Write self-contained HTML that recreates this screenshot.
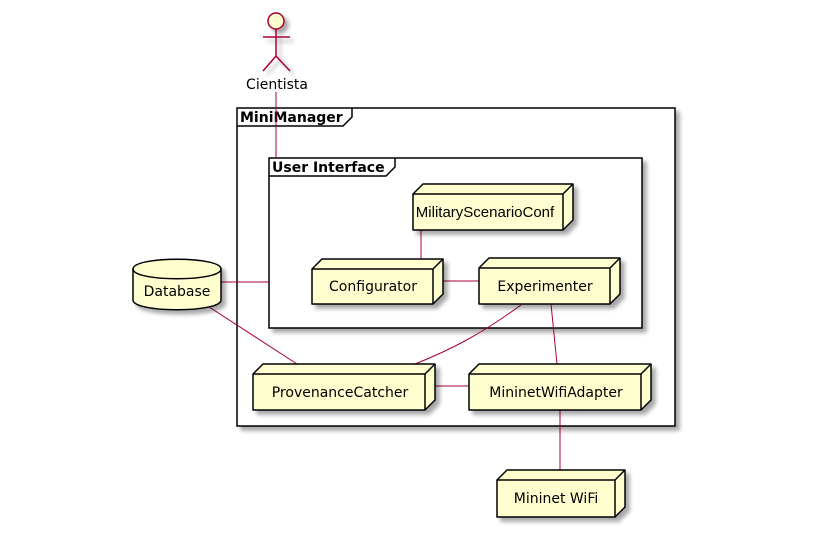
<!DOCTYPE html>
<html><head><style>body{margin:0;background:#fff}svg{display:block}</style></head><body>
<svg width="818" height="540" viewBox="0 0 818 540" xmlns="http://www.w3.org/2000/svg" font-family="DejaVu Sans, sans-serif" font-size="13">
<defs><filter id="s" x="-10%" y="-10%" width="130%" height="130%"><feGaussianBlur in="SourceAlpha" stdDeviation="2"/><feOffset dx="4" dy="4"/><feComponentTransfer><feFuncA type="linear" slope="0.35"/></feComponentTransfer><feMerge><feMergeNode/><feMergeNode in="SourceGraphic"/></feMerge></filter></defs>
<rect x="237" y="108" width="438" height="318" fill="#fff" stroke="#000" stroke-width="1.5" filter="url(#s)"/>
<path d="M237,126 H343 L352,117 V108" fill="none" stroke="#000" stroke-width="1.5"/>
<text x="240" y="122" font-weight="bold" font-size="14">MiniManager</text>
<rect x="269" y="158" width="373" height="170" fill="#fff" stroke="#000" stroke-width="1.5" filter="url(#s)"/>
<path d="M269,176 H386 L395,167 V158" fill="none" stroke="#000" stroke-width="1.5"/>
<text x="272" y="172" font-weight="bold" font-size="14">User Interface</text>
<g stroke="#A80036" stroke-width="1" fill="none">
<line x1="276" y1="92" x2="276" y2="158"/>
<line x1="221" y1="282" x2="269" y2="282"/>
<line x1="421" y1="230" x2="421" y2="259"/>
<line x1="443" y1="281" x2="479" y2="281"/>
<path d="M521,305 C480,335 450,350 415,364"/>
<line x1="551" y1="304" x2="557" y2="364"/>
<line x1="203" y1="303" x2="297" y2="364"/>
<line x1="435" y1="386" x2="469" y2="386"/>
<line x1="560" y1="410" x2="560" y2="470"/>
</g>
<g stroke="#A80036" stroke-width="1.5" fill="none" filter="url(#s)">
<circle cx="276" cy="21" r="8" fill="#FEFECE"/>
<line x1="276" y1="29" x2="276" y2="56"/>
<line x1="263" y1="37" x2="290" y2="37"/>
<path d="M263,71 L276,56 L290,71"/>
</g>
<text x="277" y="89" text-anchor="middle" font-size="14">Cientista</text>
<g stroke="#000" stroke-width="1.5" fill="#FEFECE" filter="url(#s)">
<path d="M133,269 C133,256 221,256 221,269 V300 C221,313 133,313 133,300 Z"/>
<path d="M133,269 C133,282 221,282 221,269" fill="none"/>
</g>
<text x="177" y="296" text-anchor="middle" font-size="14">Database</text>
<g stroke="#000" stroke-width="1.5" fill="#FEFECE" stroke-linejoin="round">
<g filter="url(#s)"><path d="M413,194 L423,184 H573 V220 L563,230 H413 Z"/><path d="M413,194 H563 L573,184 M563,194 V230" fill="none"/></g>
<g filter="url(#s)"><path d="M312,269 L322,259 H443 V294 L433,304 H312 Z"/><path d="M312,269 H433 L443,259 M433,269 V304" fill="none"/></g>
<g filter="url(#s)"><path d="M479,268 L489,258 H620 V294 L610,304 H479 Z"/><path d="M479,268 H610 L620,258 M610,268 V304" fill="none"/></g>
<g filter="url(#s)"><path d="M253,374 L263,364 H435 V400 L425,410 H253 Z"/><path d="M253,374 H425 L435,364 M425,374 V410" fill="none"/></g>
<g filter="url(#s)"><path d="M469,374 L479,364 H651 V400 L641,410 H469 Z"/><path d="M469,374 H641 L651,364 M641,374 V410" fill="none"/></g>
<g filter="url(#s)"><path d="M497,480 L507,470 H625 V507 L615,517 H497 Z"/><path d="M497,480 H615 L625,470 M615,480 V517" fill="none"/></g>
</g>
<text x="485" y="217" text-anchor="middle" font-family="Liberation Sans, sans-serif" font-size="15">MilitaryScenarioConf</text>
<text x="373" y="291" text-anchor="middle" font-size="14">Configurator</text>
<text x="545" y="291" text-anchor="middle" font-size="14">Experimenter</text>
<text x="340" y="397" text-anchor="middle" font-size="14">ProvenanceCatcher</text>
<text x="556" y="397" text-anchor="middle" font-size="14">MininetWifiAdapter</text>
<text x="556" y="503" text-anchor="middle" font-size="14">Mininet WiFi</text>
</svg>
</body></html>
